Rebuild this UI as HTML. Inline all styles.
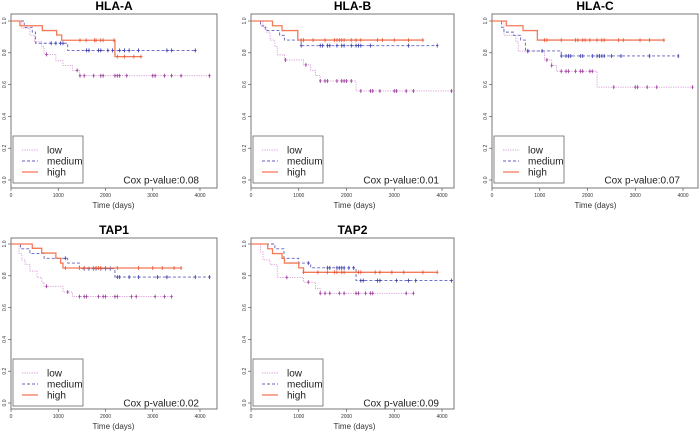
<!DOCTYPE html>
<html><head><meta charset="utf-8"><style>
html,body{margin:0;padding:0;background:#fff;}
svg{display:block;font-family:"Liberation Sans",Arial,sans-serif;}
</style></head><body>
<svg id="chart" width="700" height="437" viewBox="0 0 700 437"></svg>
<script>
// ---- data (time in days, survival probability) ----
const panelTitles = ["HLA-A","HLA-B","HLA-C","TAP1","TAP2"];
const coxPValues = ["0.08","0.01","0.07","0.02","0.09"];
const xTicks = [0,1000,2000,3000,4000];
const yTicks = [0,0.2,0.4,0.6,0.8,1.0];
const groupNames = ["low","medium","high"];

const hlaA_low_t = [230,400,500,650,700,950,1100,1300,1450];
const hlaA_low_s = [0.955,0.91,0.87,0.838,0.79,0.75,0.72,0.69,0.656];
const hlaA_low_end = 4200;
const hlaA_low_c = [750,1400,1460,1550,1750,1900,1950,2200,2250,2300,2450,3000,3050,3250,3400,3600,4200];
const hlaA_med_t = [280,450,520,1200];
const hlaA_med_s = [0.96,0.93,0.86,0.815];
const hlaA_med_end = 3900;
const hlaA_med_c = [850,950,1050,1100,1600,1650,1850,1900,2050,2150,2300,2400,2500,2700,3300,3400,3900];
const hlaA_high_t = [190,663,966,1072,2200];
const hlaA_high_s = [0.97,0.94,0.912,0.879,0.776];
const hlaA_high_end = 2778;
const hlaA_high_c = [1460,1590,1770,1800,1900,1950,2180,2250,2400,2600,2750];

const hlaB_low_t = [250,330,400,500,550,700,1100,1250,1350,1450,2200];
const hlaB_low_s = [0.96,0.93,0.88,0.84,0.787,0.755,0.724,0.69,0.657,0.623,0.56];
const hlaB_low_end = 4200;
const hlaB_low_c = [720,1150,1450,1550,1600,1800,1900,1950,2000,2100,2300,2500,2550,2700,3000,3050,3250,3400,4200];
const hlaB_med_t = [200,300,600,700,1050];
const hlaB_med_s = [0.97,0.94,0.91,0.88,0.845];
const hlaB_med_end = 3900;
const hlaB_med_c = [1050,1450,1500,1600,1650,1800,1900,1950,2100,2200,2250,2300,2500,3300,3900];
const hlaB_high_t = [450,650,980];
const hlaB_high_s = [0.97,0.94,0.88];
const hlaB_high_end = 3600;
const hlaB_high_c = [1050,1100,1300,1550,1750,1800,1850,1900,1950,2100,2200,2300,2650,2750,3000,3300,3600];

const hlaC_low_t = [250,500,550,1100,1250,1350,2200];
const hlaC_low_s = [0.91,0.87,0.81,0.755,0.72,0.684,0.584];
const hlaC_low_end = 4200;
const hlaC_low_c = [750,1150,1250,1450,1550,1600,1750,1850,1900,2050,2100,2550,3000,3050,3250,3450,4200];
const hlaC_med_t = [200,250,450,600,700,1450];
const hlaC_med_s = [0.96,0.93,0.91,0.88,0.812,0.78];
const hlaC_med_end = 3900;
const hlaC_med_c = [750,1050,1450,1550,1600,1650,1850,1900,2100,2200,2250,2300,2350,2500,2700,3300,3900];
const hlaC_high_t = [300,650,950];
const hlaC_high_s = [0.97,0.94,0.88];
const hlaC_high_end = 3600;
const hlaC_high_c = [1100,1150,1450,1750,1800,1900,1950,2050,2200,2300,2350,2650,2750,3100,3300,3600];

const tap1_low_t = [170,230,300,400,550,650,700,1100,1300];
const tap1_low_s = [0.94,0.9,0.87,0.83,0.79,0.76,0.734,0.698,0.669];
const tap1_low_end = 3400;
const tap1_low_c = [750,1200,1450,1550,1600,1850,1950,2000,2200,2250,2550,2650,3050,3250,3400];
const tap1_med_t = [200,400,700,1200,1450,2200];
const tap1_med_s = [0.97,0.94,0.91,0.88,0.845,0.792];
const tap1_med_end = 4200;
const tap1_med_c = [1150,1550,1650,1750,1800,1900,2000,2100,2250,2300,2500,2700,3100,3300,3900,4200];
const tap1_high_t = [450,650,950,1050,1100];
const tap1_high_s = [0.973,0.943,0.91,0.88,0.849];
const tap1_high_end = 3600;
const tap1_high_c = [1150,1450,1550,1750,1800,1850,1900,2000,2250,2700,3000,3200,3450,3600];

const tap2_low_t = [200,250,400,550,1100,1350,1450];
const tap2_low_s = [0.95,0.9,0.87,0.79,0.76,0.72,0.69];
const tap2_low_end = 3400;
const tap2_low_c = [750,1200,1450,1550,1650,1850,1950,2200,2250,2400,2500,2550,3250,3400];
const tap2_med_t = [500,690,1000,1250,2200];
const tap2_med_s = [0.97,0.91,0.88,0.85,0.77];
const tap2_med_end = 4200;
const tap2_med_c = [1200,1600,1650,1800,1850,1900,1950,2050,2150,2300,2350,2650,2700,3050,3300,3450,4200];
const tap2_high_t = [350,450,650,700,1000,1100];
const tap2_high_s = [0.97,0.94,0.91,0.88,0.85,0.822];
const tap2_high_end = 3900;
const tap2_high_c = [1100,1400,1600,1750,1800,1900,1950,2250,2300,2600,2700,2950,3200,3600,3900];

const panelData = [
 [[hlaA_low_t,hlaA_low_s,hlaA_low_end,hlaA_low_c],[hlaA_med_t,hlaA_med_s,hlaA_med_end,hlaA_med_c],[hlaA_high_t,hlaA_high_s,hlaA_high_end,hlaA_high_c]],
 [[hlaB_low_t,hlaB_low_s,hlaB_low_end,hlaB_low_c],[hlaB_med_t,hlaB_med_s,hlaB_med_end,hlaB_med_c],[hlaB_high_t,hlaB_high_s,hlaB_high_end,hlaB_high_c]],
 [[hlaC_low_t,hlaC_low_s,hlaC_low_end,hlaC_low_c],[hlaC_med_t,hlaC_med_s,hlaC_med_end,hlaC_med_c],[hlaC_high_t,hlaC_high_s,hlaC_high_end,hlaC_high_c]],
 [[tap1_low_t,tap1_low_s,tap1_low_end,tap1_low_c],[tap1_med_t,tap1_med_s,tap1_med_end,tap1_med_c],[tap1_high_t,tap1_high_s,tap1_high_end,tap1_high_c]],
 [[tap2_low_t,tap2_low_s,tap2_low_end,tap2_low_c],[tap2_med_t,tap2_med_s,tap2_med_end,tap2_med_c],[tap2_high_t,tap2_high_s,tap2_high_end,tap2_high_c]]
];

const layout = [
 {bl:11,bt:14,br:217,bb:188,x0:11,x4:200,y1:21,y0:180},
 {bl:251,bt:14,br:454,bb:188,x0:251,x4:442,y1:21,y0:180},
 {bl:492,bt:14,br:698,bb:188,x0:492,x4:683,y1:21,y0:180},
 {bl:11,bt:238,br:217,bb:409,x0:11,x4:200,y1:244,y0:403},
 {bl:251,bt:238,br:454,bb:409,x0:251,x4:442,y1:244,y0:403}
];
const styles = [
 {line:"#d49ad4",cens:"#9b3a9b",w:0.9,dash:"1.2,1.2"},
 {line:"#6262c0",cens:"#3a3aaa",w:0.9,dash:"3,2"},
 {line:"#f47a5a",cens:"#ec5a3a",w:1.3,dash:""}
];
const NS="http://www.w3.org/2000/svg";
const svg=document.getElementById("chart");
function mk(tag,attrs,parent){const e=document.createElementNS(NS,tag);for(const k in attrs)e.setAttribute(k,attrs[k]);(parent||svg).appendChild(e);return e;}
function survAt(t,ts,ss){let s=1;for(let i=0;i<ts.length;i++){if(ts[i]<=t)s=ss[i];}return s;}

layout.forEach((L,p)=>{
  const sx=d=>L.x0+(L.x4-L.x0)*d/4000;
  const sy=v=>L.y0-(L.y0-L.y1)*v;
  const g=mk("g",{});
  
  
  const title=mk("text",{x:(L.bl+L.br)/2,y:L.bt-4,"text-anchor":"middle","font-size":"12","font-weight":"bold",fill:"#000"},g);
  title.textContent=panelTitles[p];
  
  
  const box=mk("rect",{x:L.bl,y:L.bt,width:L.br-L.bl,height:L.bb-L.bt,fill:"none",stroke:"#777","stroke-width":"1"},g);
  
  
  xTicks.forEach(v=>{
    mk("line",{x1:sx(v),x2:sx(v),y1:L.bb,y2:L.bb+3,stroke:"#444","stroke-width":"0.6"},g);
    const t=mk("text",{x:sx(v),y:L.bb+9,"text-anchor":"middle","font-size":"5",fill:"#333"},g);
    t.textContent=v;
    
    
  });
  yTicks.forEach(v=>{
    mk("line",{x1:L.bl,x2:L.bl-3,y1:sy(v),y2:sy(v),stroke:"#444","stroke-width":"0.6"},g);
    const t=mk("text",{x:0,y:0,"text-anchor":"middle","font-size":"5",fill:"#333",transform:`translate(${L.bl-5},${sy(v)}) rotate(-90)`},g);
    t.textContent=v.toFixed(1);
    
    
  });
  const xl=mk("text",{x:(L.x0+L.x4)/2+8,y:L.bb+20,"text-anchor":"middle","font-size":"8",fill:"#333"},g);
  xl.textContent="Time (days)";
  
  
  panelData[p].forEach((ser,gi)=>{
    const [ts,ss,end,cs]=ser, st=styles[gi];
    let d=`M${sx(0)},${sy(1)}`;
    for(let i=0;i<ts.length;i++){d+=`H${sx(ts[i])}V${sy(ss[i])}`;}
    d+=`H${sx(end)}`;
    const path=mk("path",{d:d,fill:"none",stroke:st.line,"stroke-width":st.w,"stroke-dasharray":st.dash},g);
    
    
    cs.forEach(c=>{
      const y=sy(survAt(c,ts,ss)), x=sx(c);
      const m=mk("path",{d:`M${x},${y-2}V${y+2}M${x-1.2},${y}H${x+1.2}`,stroke:st.cens,"stroke-width":"0.8"},g);
      
      
    });
  });
  const lx=L.bl+2, ly=L.y0-44;
  const lg=mk("g",{},g);
  
  
  mk("rect",{x:lx,y:ly,width:70,height:47,fill:"#fff",stroke:"#666","stroke-width":"0.8"},lg);
  groupNames.forEach((n,gi)=>{
    const st=styles[gi], yy=ly+14+gi*11;
    mk("line",{x1:lx+9,x2:lx+25,y1:yy,y2:yy,stroke:st.line,"stroke-width":st.w,"stroke-dasharray":st.dash},lg);
    const t=mk("text",{x:lx+34,y:yy+3.5,"font-size":"10",fill:"#222"},lg);
    t.textContent=n;
    
    
  });
  const cx=mk("text",{x:L.bl+188,y:L.y0+3.5,"text-anchor":"end","font-size":"10",fill:"#222"},g);
  cx.textContent="Cox p-value:"+coxPValues[p];
  
  
});
</script>
</body></html>
